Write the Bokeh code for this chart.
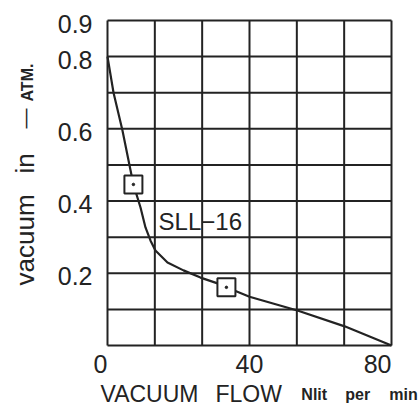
import math
from bokeh.plotting import figure
from bokeh.models import Range1d, Label
from bokeh.core.properties import value
from bokeh.embed import file_html
from bokeh.resources import INLINE

# ---- data ----
flow = [0, 1.7, 4.2, 7.3, 9.3, 10.7, 12.1, 13.5, 16.9, 21.4, 26.2, 31.0, 33.5, 40.0, 53.5, 66.8, 80]
vacuum = [0.80, 0.70, 0.596, 0.446, 0.382, 0.327, 0.291, 0.263, 0.230, 0.208, 0.188, 0.172, 0.161, 0.135, 0.097, 0.053, 0.0]
marker_flow = [7.3, 33.5]
marker_vacuum = [0.446, 0.161]
x_ticks = [0, 40, 80]
x_tick_labels = ["0", "40", "80"]
x_tick_align = ["right", "center", "right"]
y_ticks = [0.2, 0.4, 0.6, 0.8, 0.9]
y_tick_labels = ["0.2", "0.4", "0.6", "0.8", "0.9"]
x_grid = [0, 80/6, 160/6, 40, 320/6, 400/6, 80]
y_grid = [0.0, 0.1, 0.2, 0.3, 0.4, 0.5, 0.6, 0.7, 0.8, 0.9]
X_MIN, X_MAX = 0, 80
Y_MIN, Y_MAX = 0.0, 0.9
series_name = "SLL\u221216"

INK = "#232323"
FONT = "Liberation Sans"

# frame covers the whole canvas; plot box occupies px 107..391 x 20..345
p = figure(width=420, height=408, output_backend="svg", toolbar_location=None,
           x_range=Range1d(-30.14, 88.17), y_range=Range1d(-0.1745, 0.9554),
           min_border=0)
p.axis.visible = False
p.grid.visible = False
p.outline_line_color = None
p.background_fill_color = "white"
p.border_fill_color = "white"

# grid (including box edges)
p.segment(x0=x_grid, y0=[Y_MIN]*len(x_grid), x1=x_grid, y1=[Y_MAX]*len(x_grid),
          line_color=INK, line_width=2)
p.segment(x0=[X_MIN]*len(y_grid), y0=y_grid, x1=[X_MAX]*len(y_grid), y1=y_grid,
          line_color=INK, line_width=2)

# tick labels
p.text(x=x_ticks, y=[Y_MIN]*len(x_ticks), text=x_tick_labels, text_align=x_tick_align,
       y_offset=10, text_baseline="top", text_font=value(FONT), text_font_size="25px",
       text_color=INK)
p.text(x=[X_MIN]*len(y_ticks), y=y_ticks, text=y_tick_labels, text_align="right",
       x_offset=-15, y_offset=3, text_baseline="middle", text_font=value(FONT),
       text_font_size="25px", text_color=INK)

# curve and markers
p.line(flow, vacuum, line_color=INK, line_width=2.2)
p.scatter(marker_flow, marker_vacuum, marker="square", size=18, fill_color="white",
          line_color=INK, line_width=2)
p.scatter(marker_flow, marker_vacuum, marker="circle", size=2.5, fill_color=INK, line_color=INK)

p.add_layout(Label(x=14.4, y=0.343, text=series_name, text_font=FONT, text_font_size="24px",
                   text_color=INK, text_baseline="middle", text_align="left"))

def lab(x, y, text, size, angle=0.0, style="normal"):
    p.add_layout(Label(x=x, y=y, text=text, angle=angle, text_font=FONT,
                       text_font_size=size, text_font_style=style, text_color=INK,
                       text_baseline="middle", text_align="left"))

# y title (rotated), pieces spaced as in the original
lab(-23.3, 0.1662, "vacuum", "26px", math.pi/2)
lab(-23.3, 0.4763, "in", "26px", math.pi/2)
lab(-23.2, 0.601, "\u2014", "20px", math.pi/2)
lab(-22.6, 0.6757, "ATM.", "16px", math.pi/2, style="bold")

# x title
lab(-1.97, -0.1345, "VACUUM", "23px")
lab(30.4, -0.1345, "FLOW", "23px")
lab(54.6, -0.1345, "Nlit", "16px", style="bold")
lab(67.0, -0.1345, "per", "16px", style="bold")
lab(79.4, -0.1345, "min", "16px", style="bold")

open("out.html", "w").write(file_html(p, INLINE))
